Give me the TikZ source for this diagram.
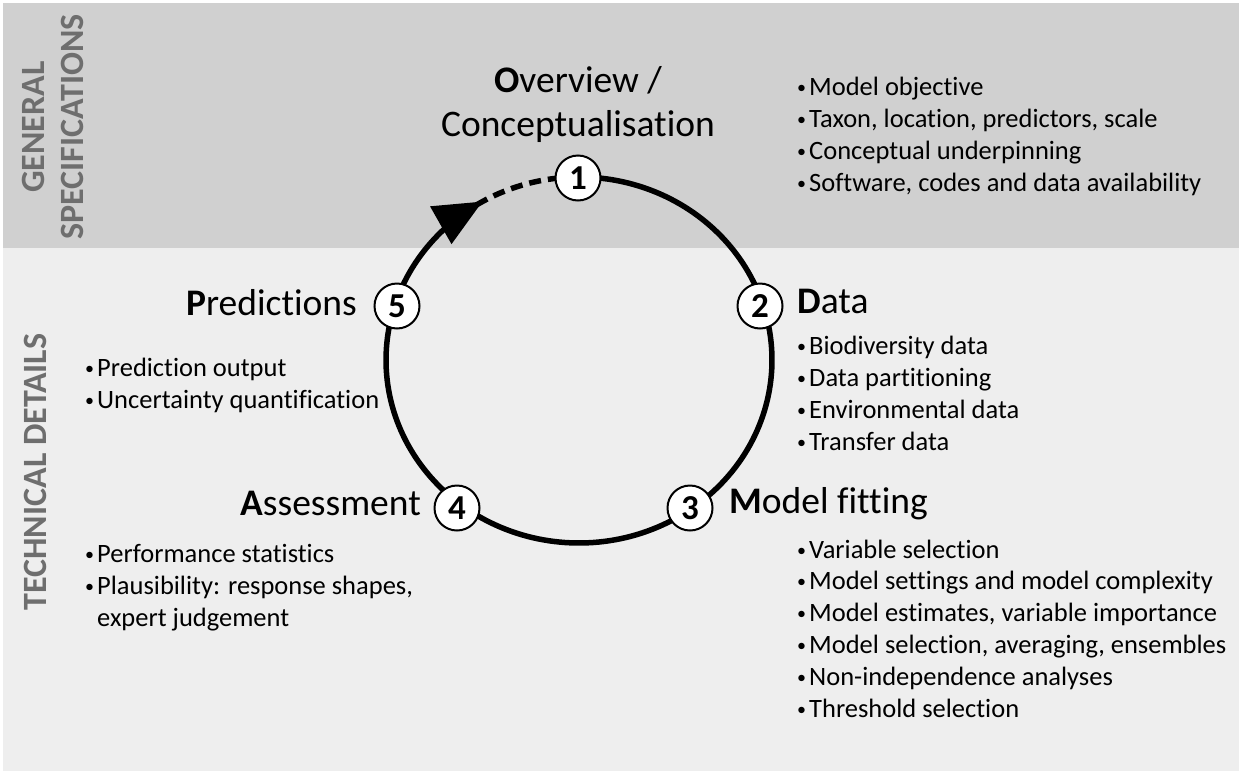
\documentclass[tikz,border=0pt]{standalone}
\usepackage{fontspec}
\setmainfont{Carlito}[Ligatures={NoCommon,NoContextual}]
\usetikzlibrary{arrows.meta}
\definecolor{bgdark}{HTML}{D0D0D0}
\definecolor{bglight}{HTML}{EEEEEE}
\definecolor{sidegray}{HTML}{6E6E6E}
\newcommand\bul{\makebox[12pt][l]{\fontsize{18}{18}\selectfont\raisebox{2pt}{•}}}
\tikzset{
  cyc/.style={line width=5.5pt, black},
  stepnum/.style={circle, draw=black, line width=2pt, fill=white, minimum size=45pt, inner sep=0pt, font=\fontsize{35}{35}\selectfont\bfseries},
  head/.style={inner sep=0pt, font=\fontsize{37.5}{42}\selectfont},
  item/.style={anchor=base west, inner sep=0pt, font=\fontsize{26.5}{30}\selectfont},
  side/.style={rotate=90, inner sep=0pt, text=sidegray, font=\fontsize{34}{36}\selectfont\bfseries}
}
\begin{document}
\begin{tikzpicture}[x=1pt,y=-1pt]
\useasboundingbox (0,0) rectangle (1242,774);
\fill[white] (0,0) rectangle (1242,774);
\fill[bglight] (3,3) rectangle (1239,771);
\fill[bgdark] (3,3) rectangle (1239,248);
% side labels
\node[side] (gen) at (33,127) {GENERAL};
\node[side] (spec) at (72,127) {SPECIFICATIONS};
\node[side] (tech) at (35,472) {TECHNICAL DETAILS};
% cycle
\draw[cyc, -{Triangle[length=48pt,width=42pt]}] plot[domain=90:-240, samples=200] ({579+193*cos(\x)},{360-183*sin(\x)});
\draw[cyc, dash pattern=on 12pt off 7pt] plot[domain=122:91, samples=40] ({579+193*cos(\x)},{360-183*sin(\x)});
% step nodes
\node[stepnum] (n1) at (578,178) {1};
\node[stepnum] (n2) at (760,306) {2};
\node[stepnum] (n3) at (690,508) {3};
\node[stepnum] (n4) at (457,508) {4};
\node[stepnum] (n5) at (397,306) {5};
% headings
\node[head, anchor=base] (h1a) at (578,92) {\textbf{O}verview /};
\node[head, anchor=base] (h1b) at (578,136) {Conceptualisation};
\node[head, anchor=base west] (h2) at (797,313) {\textbf{D}ata};
\node[head, anchor=base west] (h3) at (729,513) {\textbf{M}odel fitting};
\node[head, anchor=base east] (h5) at (357,315) {\textbf{P}redictions};
\node[head, anchor=base east] (h4) at (421,515) {\textbf{A}ssessment};
% lists
\foreach \t [count=\i from 0] in {Model objective, {Taxon, location, predictors, scale}, Conceptual underpinning, {Software, codes and data availability}}
  \node[item] (la\i) at (797,{95+32*\i}) {\bul\t};
\foreach \t [count=\i from 0] in {Biodiversity data, Data partitioning, Environmental data, Transfer data}
  \node[item] (lb\i) at (797,{354+32*\i}) {\bul\t};
\foreach \t [count=\i from 0] in {Variable selection, Model settings and model complexity, {Model estimates, variable importance}, {Model selection, averaging, ensembles}, Non-independence analyses, Threshold selection}
  \node[item] (lc\i) at (797,{558+31.8*\i}) {\bul\t};
\foreach \t [count=\i from 0] in {Prediction output, Uncertainty quantification}
  \node[item] (ld\i) at (85,{376+32*\i}) {\bul\t};
\node[item] (le0) at (85,562) {\bul Performance statistics};
\node[item] (le1) at (85,594) {\bul Plausibility: response shapes,};
\node[item] (le2) at (97,626) {expert judgement};
\end{tikzpicture}
\end{document}
